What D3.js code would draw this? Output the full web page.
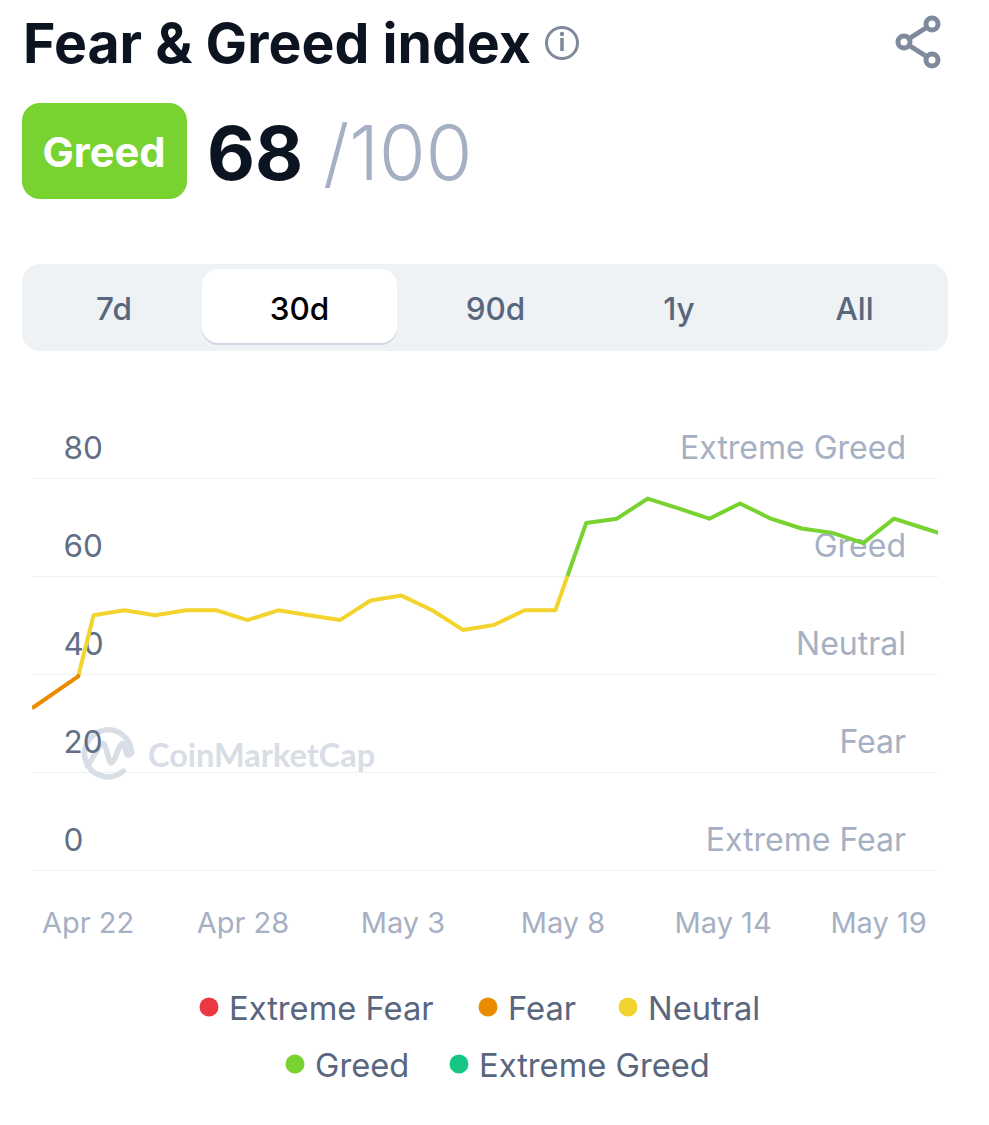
<!DOCTYPE html>
<html><head><meta charset="utf-8">
<script src="https://cdn.jsdelivr.net/npm/d3@7"></script>
<style>html,body{margin:0;padding:0;background:#fff}svg{display:block}text{font-family:Inter,"Noto Sans",sans-serif}</style>
</head><body><div id="c"></div>
<script>
const ranges = ["7d","30d","90d","1y","All"];
const yTicks = [0,20,40,60,80];
const bandNames = ["Extreme Fear","Fear","Neutral","Greed","Extreme Greed"];
const bandColors = ["#EA3943","#EA8C00","#F3D42F","#78D22F","#16C784"];
const bandLimits = [20,40,60,80];
const xLabels = ["Apr 22","Apr 28","May 3","May 8","May 14","May 19"];
const xLabelDays = [-0.18,4.85,10.05,15.25,20.45,25.5];
const days = [-2,-0.5,0,1,2,3,4,5,6,7,8,9,10,11,12,13,14,15,16,17,18,19,20,21,22,23,24,25,26,27,28];
const values = [33,39.5,52,53,52,53,53,51,53,52,51,55,56,53,49,50,53,53,70.8,71.7,75.8,73.8,71.7,74.8,71.7,69.7,68.8,66.7,71.7,69.7,67.7];
const currentValue = 68, currentLabel = "Greed";

const W=989,H=1125;
const svg=d3.select("#c").append("svg").attr("width",W).attr("height",H);
const ink="#0D1421", grey="#A6B0C3", slate="#616E85", legendInk="#58667E";

// header
svg.append("text").attr("x",23).attr("y",63).attr("font-size",55.4).attr("font-weight",700).attr("fill",ink).text("Fear & Greed index");
const info=svg.append("g").attr("transform","translate(562,43)");
info.append("circle").attr("r",15.5).attr("fill","none").attr("stroke","#808A9D").attr("stroke-width",3);
info.append("rect").attr("x",-1.8).attr("y",-5).attr("width",3.6).attr("height",13).attr("fill","#808A9D");
info.append("circle").attr("cy",-9).attr("r",2.2).attr("fill","#808A9D");
const share=svg.append("g").attr("fill","none").attr("stroke","#808A9D").attr("stroke-width",5);
share.append("path").attr("d","M932 24L904 42L932 60");
share.selectAll("circle").data([[932,24],[904,42],[932,60]]).join("circle")
  .attr("cx",d=>d[0]).attr("cy",d=>d[1]).attr("r",6).attr("fill","#fff");

svg.append("rect").attr("x",22).attr("y",103).attr("width",165).attr("height",96).attr("rx",18).attr("fill",bandColors[3]);
svg.append("text").attr("x",104).attr("y",167).attr("text-anchor","middle").attr("font-size",41.7).attr("font-weight",700).attr("fill","#fff").text(currentLabel);
svg.append("text").attr("x",207).attr("y",180).attr("font-size",74).attr("font-weight",700).attr("fill",ink).text(currentValue);
svg.append("text").attr("x",323).attr("y",180).attr("font-size",75.5).attr("font-weight",300).attr("fill",grey).text("/100");

// range selector
svg.append("rect").attr("x",22).attr("y",264).attr("width",926).attr("height",87).attr("rx",18).attr("fill","#EFF2F5");
svg.append("rect").attr("x",202).attr("y",270).attr("width",195).attr("height",75).attr("rx",16).attr("fill","#CFD6E4");
svg.append("rect").attr("x",202).attr("y",269).attr("width",195).attr("height",74).attr("rx",16).attr("fill","#fff");
const rangeX=[114,299.5,495.5,679,854.5];
svg.selectAll(".rng").data(ranges).join("text").attr("class","rng")
  .attr("x",(d,i)=>rangeX[i]).attr("y",320).attr("text-anchor","middle").attr("font-size",31.5).attr("font-weight",500)
  .attr("fill",d=>d==="30d"?"#000":legendInk).text(d=>d);

// scales
const x=d3.scaleLinear().domain([-2,27.43]).range([32,938]);
const y=d3.scaleLinear().domain([0,80]).range([870,478]);

// grid
svg.append("g").selectAll("line").data(yTicks).join("line")
  .attr("x1",x.range()[0]).attr("x2",x.range()[1]).attr("y1",d=>y(d)+.5).attr("y2",d=>y(d)+.5).attr("stroke","#EFF2F5").attr("stroke-width",1);

// watermark
const wm=svg.append("g").attr("transform","translate(1.5,1)").attr("fill","none").attr("stroke","#D8DDE6").attr("stroke-width",5.5).attr("stroke-linecap","round").attr("stroke-linejoin","round");
wm.append("path").attr("d","M122 770A23.5 23.5 0 1 1 130 752");
wm.append("path").attr("d","M86 765L99 744Q102 740 104 746L108 760Q110 764 113 758L118 746Q122 738 124 748Q125 758 130 752");
svg.append("text").attr("x",148).attr("y",767).attr("font-size",32.5).attr("font-weight",700).attr("fill","#D8DDE6").style("font-family","Lato").text("CoinMarketCap");

// y labels and band names
svg.append("g").selectAll("text").data(yTicks).join("text")
  .attr("x",63.5).attr("y",d=>y(d)-19).attr("font-size",31.5).attr("fill",slate).text(d=>d);
svg.append("g").selectAll("text").data(bandNames).join("text")
  .attr("x",906).attr("y",(d,i)=>y(yTicks[i])-19).attr("text-anchor","end").attr("font-size",32).attr("fill",grey).text(d=>d);

// x labels
svg.append("g").selectAll("text").data(xLabels).join("text")
  .attr("x",(d,i)=>x(xLabelDays[i])).attr("y",933).attr("text-anchor","middle").attr("font-size",29).attr("fill",grey).text(d=>d);

// line split at the band limits
const band=v=>d3.bisectLeft(bandLimits,v);
const pieces=[]; let cur=null;
days.forEach((d,i)=>{
  const v=values[i];
  if(i===0){cur={b:band(v),pts:[[d,v]]};pieces.push(cur);return;}
  const d0=days[i-1],v0=values[i-1];
  const crossing=bandLimits.filter(t=>(v0<t&&v>t)||(v0>t&&v<t));
  (v>v0?crossing:crossing.reverse()).forEach(t=>{
    const p=[d0+(d-d0)*(t-v0)/(v-v0),t];
    cur.pts.push(p);
    cur={b:v>v0?bandLimits.indexOf(t)+1:bandLimits.indexOf(t),pts:[p]};
    pieces.push(cur);
  });
  cur.pts.push([d,v]);
});
svg.append("clipPath").attr("id","plot").append("rect").attr("x",32).attr("y",400).attr("width",906).attr("height",480);
const line=d3.line().x(p=>x(p[0])).y(p=>y(p[1]));
svg.append("g").attr("clip-path","url(#plot)").selectAll("path").data(pieces).join("path")
  .attr("d",p=>line(p.pts)).attr("fill","none").attr("stroke",p=>bandColors[p.b]).attr("stroke-width",4).attr("stroke-linejoin","round");

// legend
const legendRows=[[0,1,2],[3,4]];
const legendX=[[199,478,618],[285,449]];
legendRows.forEach((r,ri)=>{
  const g=svg.append("g").selectAll("g").data(r).join("g")
    .attr("transform",(d,i)=>`translate(${legendX[ri][i]},${1007+ri*57})`);
  g.append("circle").attr("cx",10).attr("r",9.5).attr("fill",d=>bandColors[d]);
  g.append("text").attr("x",30).attr("y",12.5).attr("font-size",32.7).attr("fill",legendInk).text(d=>bandNames[d]);
});
</script></body></html>
